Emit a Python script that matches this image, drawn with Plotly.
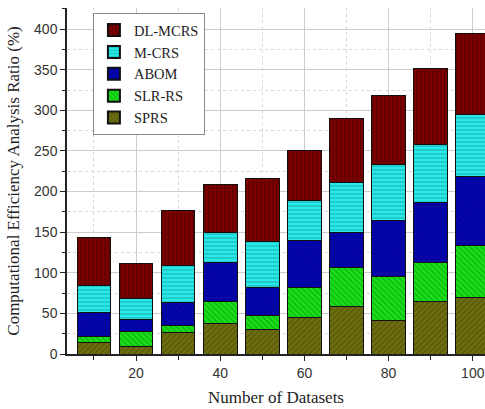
import plotly.graph_objects as go

datasets = [10, 20, 30, 40, 50, 60, 70, 80, 90, 100]
sprs = [14, 9, 26, 38, 30, 45, 59, 41, 65, 69]
slr_rs = [8, 19, 9, 27, 17, 37, 47, 55, 48, 64]
abom = [29, 15, 28, 48, 35, 58, 43, 68, 74, 85]
m_crs = [33, 25, 46, 37, 56, 49, 62, 69, 71, 77]
dl_mcrs = [59, 43, 68, 59, 78, 61, 79, 85, 93, 99]

series = [
    ("SPRS", sprs, "#6e6e10", "#3a3a00", "/"),
    ("SLR-RS", slr_rs, "#18e018", "#0a7a0a", "\\"),
    ("ABOM", abom, "#0505b0", "#000050", "x"),
    ("M-CRS", m_crs, "#28e8e8", "#108888", "-"),
    ("DL-MCRS", dl_mcrs, "#7a0000", "#3a0000", "|"),
]

fig = go.Figure()
for name, vals, col, fg, shape in series:
    fig.add_trace(go.Bar(
        x=datasets, y=vals, name=name, width=8,
        marker=dict(color=col, line=dict(color="#111111", width=1),
                    pattern=dict(shape=shape, fgcolor=fg, size=4, solidity=0.3,
                                 fillmode="overlay")),
    ))

serif = "Liberation Serif, Times New Roman, serif"
sans = "Liberation Sans, Arial, sans-serif"

fig.update_layout(
    width=485, height=409,
    margin=dict(l=67, r=0, t=8, b=55, autoexpand=False),
    barmode="stack",
    plot_bgcolor="white", paper_bgcolor="white",
    showlegend=True,
    legend=dict(x=0.062, y=0.985, xanchor="left", yanchor="top",
                traceorder="reversed", bgcolor="white",
                bordercolor="#888888", borderwidth=1,
                font=dict(family=serif, size=14.5, color="#222222"),
                tracegroupgap=0, itemsizing="constant"),
    xaxis=dict(range=[3.6, 102.9], tick0=0, dtick=20, automargin=False,
               showline=True, linecolor="#222222", linewidth=1.5,
               ticks="outside", ticklen=5, tickcolor="#222222",
               showgrid=True, gridcolor="#cccccc", gridwidth=1,
               minor=dict(dtick=10, tick0=0, showgrid=True, gridcolor="#d8d8d8",
                          griddash="dot", ticks="outside", ticklen=4, tickcolor="#222222"),
               tickfont=dict(family=sans, size=14, color="#333333"),
               title=dict(text="Number of Datasets", font=dict(family=serif, size=17, color="#222222"),
                          standoff=12),
               zeroline=False),
    yaxis=dict(range=[0, 426], tick0=0, dtick=50, automargin=False,
               showline=True, linecolor="#222222", linewidth=1.5,
               ticks="outside", ticklen=5, tickcolor="#222222",
               showgrid=True, gridcolor="#cccccc", gridwidth=1,
               minor=dict(dtick=25, tick0=0, showgrid=True, gridcolor="#d8d8d8",
                          griddash="dot", ticks="outside", ticklen=3, tickcolor="#222222"),
               tickfont=dict(family=sans, size=14, color="#333333"),
               title=dict(text="Computational Efficiency Analysis Ratio (%)",
                          font=dict(family=serif, size=17, color="#222222"), standoff=10),
               zeroline=False),
)

fig.write_html("out.html", config={"displayModeBar": False},
               post_script="document.body.style.margin='0';document.body.style.padding='0';")
